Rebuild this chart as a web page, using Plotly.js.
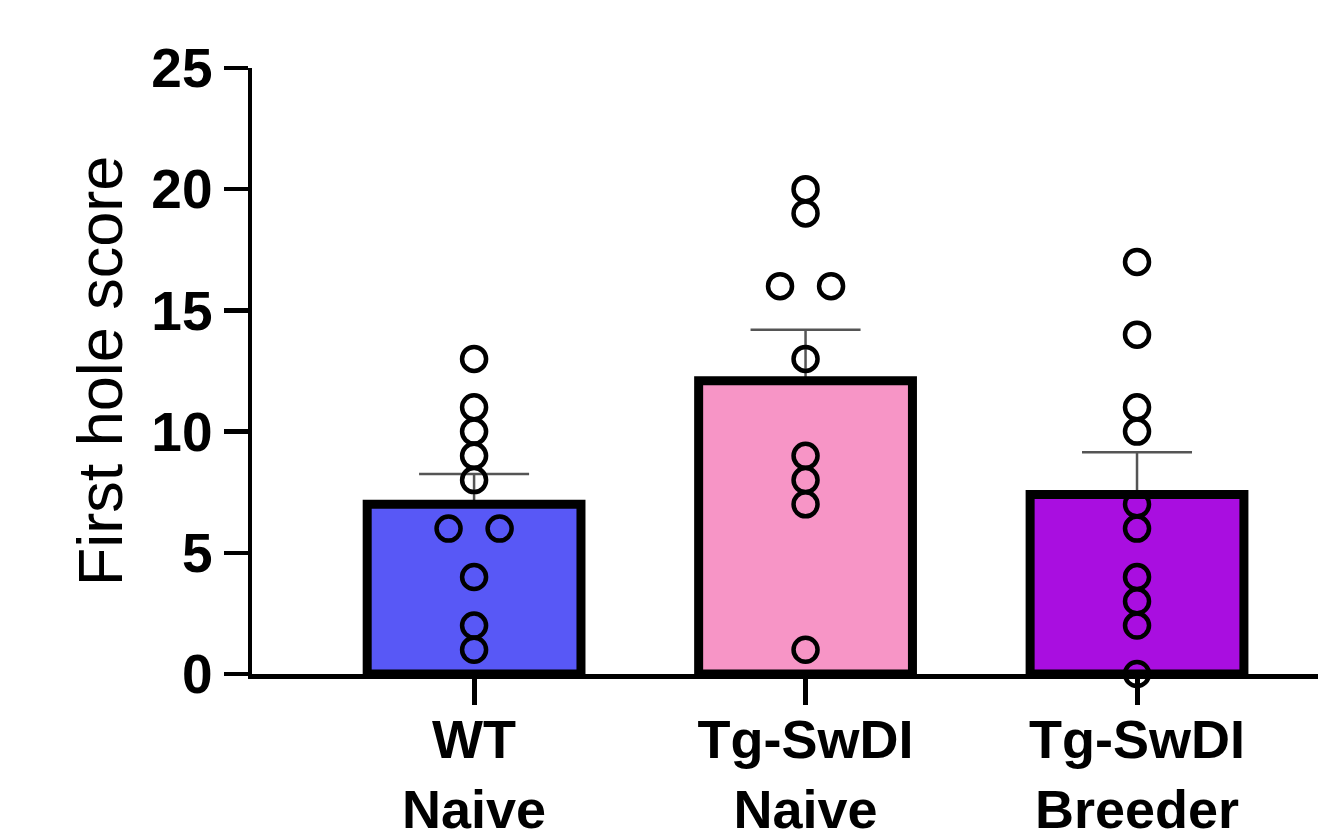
<!DOCTYPE html>
<html>
<head>
<meta charset="utf-8">
<script src="https://cdn.plot.ly/plotly-3.0.1.min.js"></script>
<style>html,body{margin:0;padding:0;background:#fff;}#chart{width:1318px;height:838px;}</style>
</head>
<body>
<div id="chart"></div>
<script>
// ---- data ----
const categories = ["WT<br>Naive", "Tg-SwDI<br>Naive", "Tg-SwDI<br>Breeder"];
const barColors = ["#5858F6", "#F795C6", "#A90EE0"];
const means = [7.0, 12.1, 7.4];
const sems = [1.25, 2.1, 1.75];
const wtPoints = [13, 11, 10, 9, 8, 6, 6, 4, 2, 1];
const tgNaivePoints = [20, 19, 16, 16, 13, 9, 8, 7, 1];
const tgBreederPoints = [17, 14, 11, 10, 7, 6, 4, 3, 2, 0];
const yTicks = [0, 5, 10, 15, 20, 25];

const groups = [wtPoints, tgNaivePoints, tgBreederPoints];
const xIdx = categories.map((_, i) => i);

// spread exact duplicate values side by side
const px = [], py = [];
const spread = 0.077;
groups.forEach((vals, g) => {
  const counts = {};
  vals.forEach(v => counts[v] = (counts[v] || 0) + 1);
  const seen = {};
  vals.forEach(v => {
    const n = counts[v];
    const k = seen[v] = (seen[v] || 0);
    seen[v]++;
    const off = (k - (n - 1) / 2) * 2 * spread;
    px.push(g + off);
    py.push(v);
  });
});

const traces = [
  {
    type: "bar", x: xIdx, y: means, width: 0.645,
    marker: {color: barColors, line: {width: 0}},
    error_y: {type: "data", symmetric: false, array: sems, arrayminus: sems.map(() => 0),
              color: "#555555", thickness: 2.5, width: 55},
    hoverinfo: "skip", showlegend: false
  },
  {
    type: "bar", x: xIdx, y: means, width: 0.645,
    marker: {color: "rgba(0,0,0,0)", line: {width: 9, color: "#000"}},
    hoverinfo: "skip", showlegend: false
  },
  {
    type: "scatter", mode: "markers", x: px, y: py,
    marker: {symbol: "circle", size: 24, color: "rgba(0,0,0,0)", line: {color: "#000", width: 4.5}},
    cliponaxis: false, showlegend: false
  }
];

const layout = {
  width: 1318, height: 838,
  margin: {l: 252, r: 0, t: 68, b: 164},
  paper_bgcolor: "#fff", plot_bgcolor: "#fff",
  barmode: "overlay",
  showlegend: false,
  font: {family: "Liberation Sans, Arial, sans-serif", color: "#000"},
  xaxis: {
    range: [-0.67, 2.546],
    tickmode: "array", tickvals: xIdx, ticktext: categories,
    ticks: "outside", ticklen: 26, tickwidth: 5, tickcolor: "#000",
    showline: true, linewidth: 5, linecolor: "#000",
    showgrid: false, zeroline: false,
    tickfont: {family: "Liberation Sans, Arial, sans-serif", size: 54, color: "#000", weight: "bold"},
    ticklabelstandoff: -12
  },
  yaxis: {
    range: [0, 25],
    tickmode: "array", tickvals: yTicks,
    ticks: "outside", ticklen: 24, tickwidth: 4.5, tickcolor: "#000",
    showline: true, linewidth: 4.5, linecolor: "#000",
    showgrid: false, zeroline: false,
    tickfont: {family: "Liberation Sans, Arial, sans-serif", size: 55, color: "#000", weight: "bold"},
    ticklabelstandoff: 0,
    title: {text: "First hole score", standoff: 10,
            font: {family: "Liberation Sans, Arial, sans-serif", size: 63, color: "#000"}}
  }
};

Plotly.newPlot("chart", traces, layout, {displayModeBar: false, staticPlot: true});
</script>
</body>
</html>
